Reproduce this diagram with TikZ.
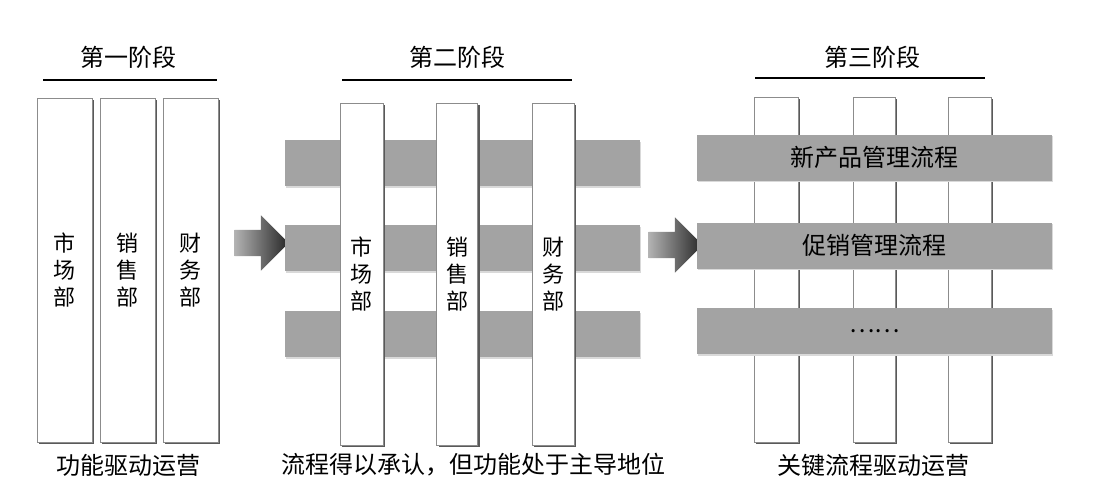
\documentclass[tikz,border=0pt]{standalone}
\usepackage{fontspec}
\newfontfamily\cjk{Noto Sans CJK SC}
\usetikzlibrary{shapes.arrows, shadows}
\tikzset{
  stagetitle/.style = {font=\cjk\fontsize{24}{28}\selectfont},
  caption/.style    = {font=\cjk\fontsize{24}{28}\selectfont},
  dept/.style       = {draw=black!45, fill=white, line width=0.6pt,
                       minimum height=344pt, inner sep=0pt, align=center,
                       font=\cjk\fontsize{22}{27}\selectfont,
                       drop shadow={shadow xshift=2.2pt, shadow yshift=-2.2pt,
                                    fill=black!65, opacity=1}},
  flowbar/.style    = {fill=black!36, minimum width=355pt, minimum height=46pt,
                       inner sep=0pt, font=\cjk\fontsize{24}{28}\selectfont,
                       drop shadow={shadow xshift=1pt, shadow yshift=-1.5pt,
                                    fill=black!15, opacity=1}},
  stagearrow/.style = {single arrow, single arrow head extend=14.5pt,
                       minimum height=54pt, inner xsep=0pt, inner ysep=13pt,
                       left color=black!30, right color=black!85},
  rule/.style       = {line width=1.5pt, black},
}

\begin{document}
\begin{tikzpicture}[x=1pt, y=-1pt]
    \useasboundingbox[fill=white] (0,0) rectangle (1094,493);

    % --- stage one ----------------------------------------------------------
    \node[stagetitle] (t1) at (128,57) {第一阶段};
    \draw[rule] (43,80) coordinate (l1a) -- (217,80) coordinate (l1b);
    \node[dept, minimum width=55pt] (s1mkt) at (64.5,270) {市\\场\\部};
    \node[dept, minimum width=55pt] (s1sal) at (127.5,270) {销\\售\\部};
    \node[dept, minimum width=55pt] (s1fin) at (190.5,270) {财\\务\\部};
    \node[caption] (c1) at (128,465) {功能驱动运营};

    \node[stagearrow] (arr1) at (255,243) {};

    % --- stage two ----------------------------------------------------------
    \node[stagetitle] (t2) at (457,57) {第二阶段};
    \draw[rule] (342,80) coordinate (l2a) -- (572,80) coordinate (l2b);
    \node[flowbar] (s2p1) at (462.5,163) {};
    \node[flowbar] (s2p2) at (462.5,248) {};
    \node[flowbar] (s2p3) at (462.5,334) {};
    \node[dept, minimum width=43pt, minimum height=342pt] (s2mkt) at (361.5,274) {市\\场\\部};
    \node[dept, minimum width=41pt, minimum height=342pt] (s2sal) at (457,274) {销\\售\\部};
    \node[dept, minimum width=42pt, minimum height=342pt] (s2fin) at (553,274) {财\\务\\部};
    \node[caption] (c2) at (473,465) {流程得以承认，但功能处于主导地位};

    \node[stagearrow] (arr2) at (669,245) {};

    % --- stage three --------------------------------------------------------
    \node[stagetitle] (t3) at (872,57) {第三阶段};
    \draw[rule] (755,78) coordinate (l3a) -- (985,78) coordinate (l3b);
    \node[dept, minimum width=44pt, minimum height=345pt] (s3a) at (776,269.5) {};
    \node[dept, minimum width=42pt, minimum height=345pt] (s3b) at (874,269.5) {};
    \node[dept, minimum width=43pt, minimum height=345pt] (s3c) at (969.5,269.5) {};
    \node[flowbar] (s3p1) at (874.5,157.5) {新产品管理流程};
    \node[flowbar] (s3p2) at (874.5,245.5) {促销管理流程};
    \node[flowbar] (s3p3) at (874.5,331) {……};
    \node[caption] (c3) at (873,465) {关键流程驱动运营};
\end{tikzpicture}
\end{document}
